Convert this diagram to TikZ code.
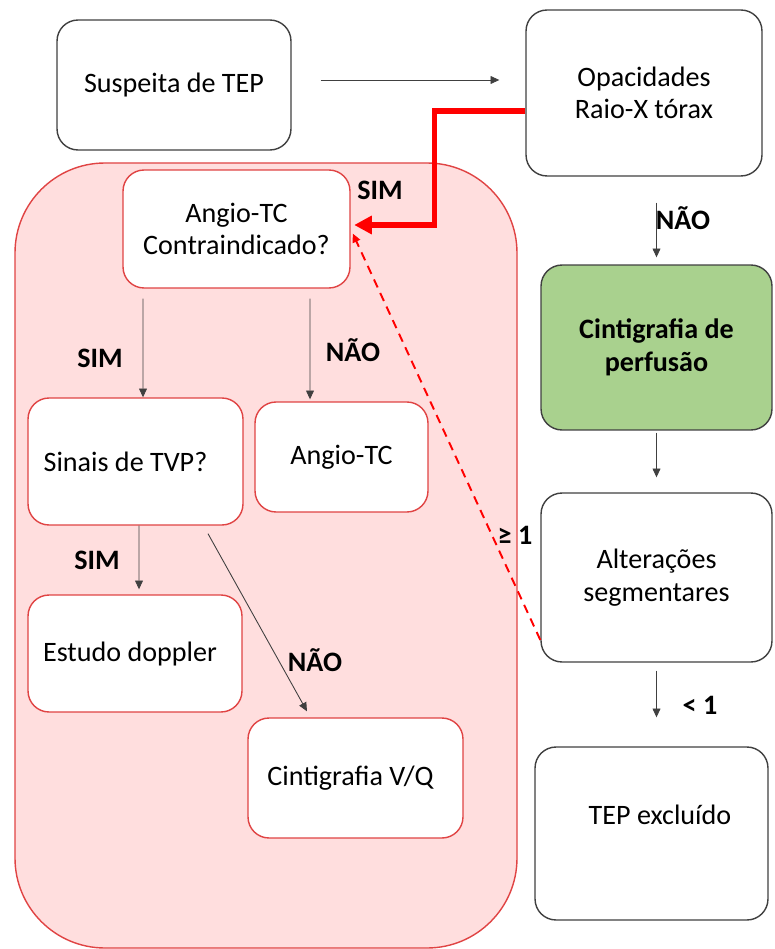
\documentclass[tikz,border=0pt]{standalone}
\usepackage{fontspec}
\setmainfont{Carlito}
\usetikzlibrary{arrows.meta,positioning,calc}
\definecolor{FlowRed}{HTML}{E04444}
\definecolor{FlowPink}{HTML}{FFDEDE}
\definecolor{FlowGreen}{HTML}{A9D18E}
\definecolor{FlowGray}{HTML}{404040}

\begin{document}
\begin{tikzpicture}[x=0.02cm,y=-0.02cm,
  every node/.style={font=\fontsize{16}{18.5}\selectfont},
  box/.style={draw=FlowGray,line width=0.8pt,rounded corners=0.42cm,fill=white,inner sep=0pt,align=center},
  redbox/.style={box,draw=FlowRed},
  lbl/.style={font=\fontsize{16}{18.5}\selectfont\bfseries},
  arr/.style={draw=FlowGray,line width=0.5pt,-{Triangle[length=5pt,width=4.5pt]}}]
  \useasboundingbox (0,0) rectangle (774,949);

  \draw[FlowRed,fill=FlowPink,line width=0.8pt,rounded corners=1.8cm] (15,163) rectangle (517,948);

  \node[box,minimum width=4.68cm,minimum height=2.6cm] (susp) at (174,85) {Suspeita de TEP};
  \node[box,minimum width=4.72cm,minimum height=3.32cm] (opac) at (644,93) {Opacidades\\Raio-X tórax};
  \node[box,fill=FlowGreen,font=\fontsize{16}{18.5}\selectfont\bfseries,minimum width=4.62cm,minimum height=3.3cm] (perf) at (656.5,347.5) {Cintigrafia de\\perfusão};
  \node[box,minimum width=4.62cm,minimum height=3.38cm] (alt) at (656.5,577.5) {Alterações\\segmentares};
  \node[box,minimum width=4.66cm,minimum height=3.46cm] (tep) at (651.5,833.5) {};
  \node (teptxt) at (660,815) {TEP excluído};

  \node[redbox,minimum width=4.54cm,minimum height=2.36cm] (contra) at (236.5,229) {Angio-TC\\Contraindicado?};
  \node[redbox,minimum width=4.3cm,minimum height=2.54cm] (tvp) at (135.5,461.5) {Sinais de TVP?\hspace*{0.4cm}};
  \node[redbox,minimum width=3.46cm,minimum height=2.2cm] (angio) at (341.5,457) {Angio-TC};
  \node[redbox,minimum width=4.28cm,minimum height=2.34cm] (dop) at (135,653.5) {Estudo doppler\hspace*{0.2cm}};
  \node[redbox,minimum width=4.3cm,minimum height=2.4cm] (vq) at (355.5,778) {Cintigrafia V/Q\hspace*{0.2cm}};

  \draw[arr,shorten <=0.58cm,shorten >=0.52cm] ([yshift=0.1cm]susp.east) -- ([yshift=0.1cm]susp.east -| opac.west);
  \draw[red,line width=3pt,-{Triangle[length=10pt,width=10pt]},shorten >=2pt] ([yshift=-0.36cm]opac.west) -- ++(-91,0) |- ([yshift=0.08cm]contra.east);
  \draw[arr,shorten <=0.52cm,shorten >=0.14cm] (opac.south -| perf.north) -- (perf.north);
  \draw[arr,shorten <=0.04cm,shorten >=0.3cm] (perf.south) -- (alt.north);
  \draw[arr,shorten <=0.16cm,shorten >=0.58cm] (alt.south) -- (alt.south |- tep.north);
  \draw[red,line width=1.1pt,dash pattern=on 5pt off 3.5pt,-{Triangle[length=5pt,width=4.5pt]},shorten >=0.1cm] ([yshift=-1.25cm]alt.west) -- (contra.east);

  \draw[arr,shorten <=0.2cm] ($(contra.south)+(-93.5,0)$) -- ($(tvp.north)+(7.5,0)$);
  \draw[arr,shorten <=0.2cm,shorten >=0.04cm] ($(contra.south)+(73.5,0)$) -- ($(angio.north)+(-31.5,0)$);
  \draw[arr,shorten >=0.1cm] ($(tvp.south)+(3.5,0)$) -- ($(dop.north)+(4,0)$);
  \draw[arr] ($(tvp.south)+(72.5,8)$) -- ($(vq.north)+(-48.5,-6)$);

  \node[lbl] (simtop) at (380,190) {SIM};
  \node[lbl] (naotop) at (683,218) {NÃO};
  \node[lbl] (simleft) at (100,358) {SIM};
  \node[lbl] (naomid) at (353,350) {NÃO};
  \node[lbl] (simlow) at (97,560) {SIM};
  \node[lbl] (naolow) at (315,660) {NÃO};
  \node[lbl] (geone) at (515,535) {≥ 1};
  \node[lbl] (ltone) at (700,705) {< 1};
\end{tikzpicture}
\end{document}
